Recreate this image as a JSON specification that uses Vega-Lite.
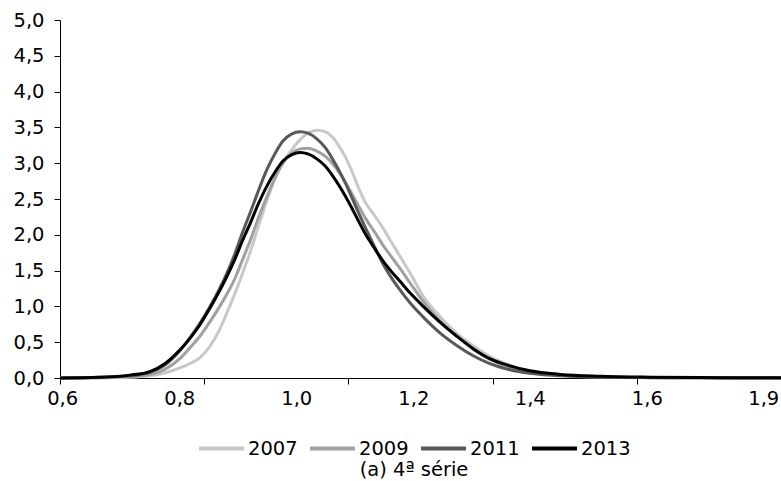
{
  "$schema": "https://vega.github.io/schema/vega-lite/v6.json",
  "width": 721,
  "height": 358,
  "autosize": {"type": "none"},
  "padding": {"left": 60, "top": 20, "right": 0, "bottom": 103},
  "config": {
    "font": "DejaVu Sans",
    "view": {"stroke": null},
    "axis": {"labelFont": "DejaVu Sans", "labelFontSize": 19.5, "labelColor": "#000", "domainColor": "#000", "tickColor": "#000", "grid": false}
  },
  "data": {"values": [
    {"x": 0.600, "2007": 0, "2009": 0, "2011": 0, "2013": 0},
    {"x": 0.672, "2007": 0.002, "2009": 0.005, "2011": 0.01, "2013": 0.01},
    {"x": 0.726, "2007": 0.01, "2009": 0.02, "2011": 0.03, "2013": 0.04},
    {"x": 0.762, "2007": 0.03, "2009": 0.05, "2011": 0.08, "2013": 0.09},
    {"x": 0.789, "2007": 0.07, "2009": 0.12, "2011": 0.18, "2013": 0.20},
    {"x": 0.816, "2007": 0.14, "2009": 0.27, "2011": 0.38, "2013": 0.39},
    {"x": 0.834, "2007": 0.20, "2009": 0.42, "2011": 0.56, "2013": 0.55},
    {"x": 0.852, "2007": 0.28, "2009": 0.58, "2011": 0.76, "2013": 0.74},
    {"x": 0.870, "2007": 0.44, "2009": 0.78, "2011": 0.99, "2013": 0.97},
    {"x": 0.888, "2007": 0.68, "2009": 1.00, "2011": 1.25, "2013": 1.22},
    {"x": 0.903, "2007": 0.95, "2009": 1.20, "2011": 1.50, "2013": 1.45},
    {"x": 0.916, "2007": 1.19, "2009": 1.40, "2011": 1.75, "2013": 1.67},
    {"x": 0.928, "2007": 1.44, "2009": 1.63, "2011": 2.01, "2013": 1.90},
    {"x": 0.943, "2007": 1.76, "2009": 1.92, "2011": 2.31, "2013": 2.16},
    {"x": 0.957, "2007": 2.10, "2009": 2.22, "2011": 2.60, "2013": 2.42},
    {"x": 0.973, "2007": 2.48, "2009": 2.53, "2011": 2.91, "2013": 2.68},
    {"x": 0.988, "2007": 2.79, "2009": 2.80, "2011": 3.14, "2013": 2.88},
    {"x": 1.002, "2007": 3.01, "2009": 3.00, "2011": 3.31, "2013": 3.03},
    {"x": 1.018, "2007": 3.19, "2009": 3.14, "2011": 3.41, "2013": 3.12},
    {"x": 1.033, "2007": 3.33, "2009": 3.20, "2011": 3.44, "2013": 3.15},
    {"x": 1.047, "2007": 3.42, "2009": 3.21, "2011": 3.42, "2013": 3.13},
    {"x": 1.063, "2007": 3.46, "2009": 3.17, "2011": 3.34, "2013": 3.06},
    {"x": 1.078, "2007": 3.44, "2009": 3.10, "2011": 3.22, "2013": 2.96},
    {"x": 1.092, "2007": 3.36, "2009": 2.99, "2011": 3.05, "2013": 2.82},
    {"x": 1.107, "2007": 3.19, "2009": 2.83, "2011": 2.84, "2013": 2.64},
    {"x": 1.123, "2007": 2.95, "2009": 2.62, "2011": 2.58, "2013": 2.42},
    {"x": 1.137, "2007": 2.68, "2009": 2.42, "2011": 2.33, "2013": 2.21},
    {"x": 1.150, "2007": 2.46, "2009": 2.24, "2011": 2.11, "2013": 2.02},
    {"x": 1.168, "2007": 2.26, "2009": 2.03, "2011": 1.82, "2013": 1.80},
    {"x": 1.182, "2007": 2.10, "2009": 1.86, "2011": 1.60, "2013": 1.64},
    {"x": 1.195, "2007": 1.93, "2009": 1.72, "2011": 1.43, "2013": 1.51},
    {"x": 1.213, "2007": 1.70, "2009": 1.53, "2011": 1.23, "2013": 1.35},
    {"x": 1.231, "2007": 1.47, "2009": 1.33, "2011": 1.05, "2013": 1.19},
    {"x": 1.255, "2007": 1.14, "2009": 1.07, "2011": 0.85, "2013": 1.00},
    {"x": 1.285, "2007": 0.86, "2009": 0.80, "2011": 0.63, "2013": 0.78},
    {"x": 1.316, "2007": 0.62, "2009": 0.58, "2011": 0.45, "2013": 0.58},
    {"x": 1.345, "2007": 0.45, "2009": 0.40, "2011": 0.31, "2013": 0.41},
    {"x": 1.375, "2007": 0.30, "2009": 0.26, "2011": 0.20, "2013": 0.27},
    {"x": 1.411, "2007": 0.18, "2009": 0.15, "2011": 0.115, "2013": 0.17},
    {"x": 1.447, "2007": 0.10, "2009": 0.09, "2011": 0.065, "2013": 0.10},
    {"x": 1.502, "2007": 0.05, "2009": 0.04, "2011": 0.03, "2013": 0.05},
    {"x": 1.574, "2007": 0.02, "2009": 0.015, "2011": 0.012, "2013": 0.025},
    {"x": 1.664, "2007": 0.008, "2009": 0.006, "2011": 0.005, "2013": 0.012},
    {"x": 1.754, "2007": 0.003, "2009": 0.003, "2011": 0.002, "2013": 0.006},
    {"x": 1.900, "2007": 0.001, "2009": 0.001, "2011": 0.001, "2013": 0.002}
  ]},
  "transform": [{"fold": ["2007", "2009", "2011", "2013"], "as": ["serie", "valor"]}],
  "layer": [
    {
      "mark": {"type": "line", "interpolate": "monotone", "strokeWidth": 3},
      "encoding": {
        "x": {
          "field": "x", "type": "quantitative",
          "scale": {"domain": [0.6, 1.9], "nice": false, "zero": false},
          "axis": {"orient": "bottom", "title": null, "values": [0.6, 0.86, 1.12, 1.38, 1.64, 1.9], "labels": false, "tickSize": 6, "ticks": true, "domain": true}
        },
        "y": {
          "field": "valor", "type": "quantitative",
          "scale": {"domain": [0, 5], "nice": false},
          "axis": {"title": null, "values": [0, 0.5, 1, 1.5, 2, 2.5, 3, 3.5, 4, 4.5, 5], "labelExpr": "replace(format(datum.value, '.1f'), '.', ',')", "tickSize": 6, "labelPadding": 10}
        },
        "color": {
          "field": "serie", "type": "nominal",
          "scale": {"domain": ["2007", "2009", "2011", "2013"], "range": ["#c8c8c8", "#a0a0a0", "#595959", "#000000"]},
          "legend": {
            "orient": "none", "legendX": 137, "legendY": 404, "direction": "horizontal",
            "title": "(a) 4ª série", "titleOrient": "bottom", "titleAnchor": "middle",
            "titleFontSize": 19.5, "titleFontWeight": "normal", "titleFont": "DejaVu Sans", "titleColor": "#000", "titlePadding": 3,
            "labelFontSize": 19.5, "labelFont": "DejaVu Sans", "labelColor": "#000",
            "symbolType": "stroke", "symbolSize": 2025, "symbolStrokeWidth": 4, "labelOffset": 2, "columnPadding": 4
          }
        }
      }
    },
    {
      "mark": {"type": "point", "opacity": 0},
      "encoding": {
        "x": {
          "field": "x", "type": "quantitative",
          "axis": {"orient": "bottom", "title": null, "values": [0.604, 0.815, 1.026, 1.237, 1.447, 1.658, 1.868], "ticks": false, "tickSize": 0, "domain": false, "labelPadding": 11,
            "labelExpr": "datum.value < 0.7 ? '0,6' : datum.value < 0.9 ? '0,8' : datum.value < 1.1 ? '1,0' : datum.value < 1.3 ? '1,2' : datum.value < 1.5 ? '1,4' : datum.value < 1.75 ? '1,6' : '1,9'"}
        },
        "y": {"field": "valor", "type": "quantitative", "axis": null}
      }
    }
  ],
  "resolve": {"axis": {"x": "independent", "y": "independent"}}
}
